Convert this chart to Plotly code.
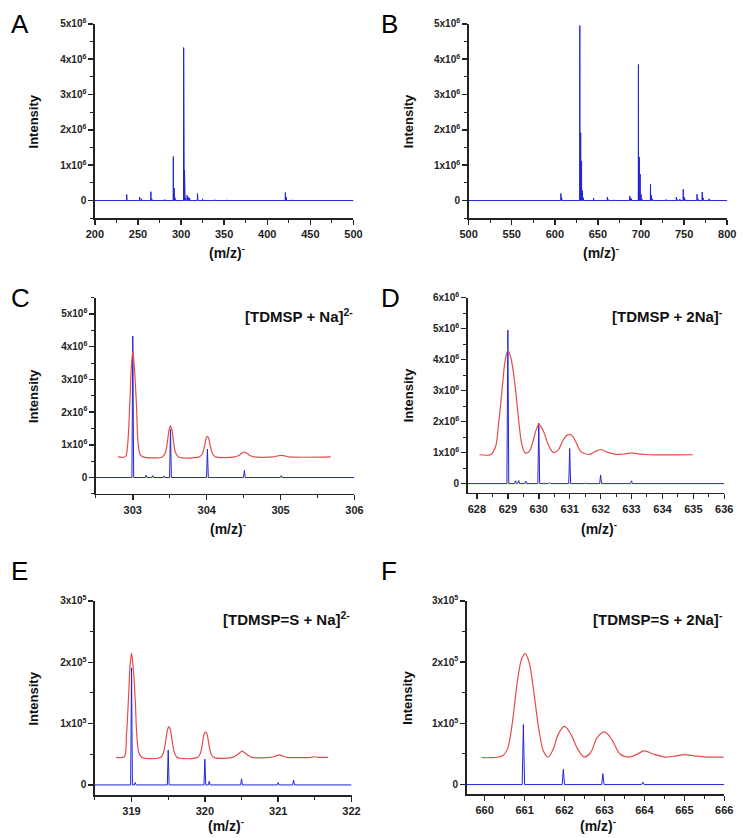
import plotly.graph_objects as go

W, H = 745, 838

# ---------------- data ----------------
# Panel A: full spectrum 200-500 (intensity in units of 1e6)
a_peak_mz = [237, 252, 254, 265, 266, 281, 291, 292, 293, 303, 303.5, 304, 304.5, 305,
             307, 308, 309, 310, 319, 319.5, 325, 338, 340, 353, 421, 422, 429]
a_peak_int = [0.17, 0.10, 0.05, 0.25, 0.05, 0.03, 1.25, 0.35, 0.08, 4.33, 1.45, 0.86, 0.22, 0.07,
              0.15, 0.10, 0.08, 0.06, 0.20, 0.06, 0.05, 0.02, 0.02, 0.02, 0.23, 0.10, 0.02]

# Panel B: full spectrum 500-800 (1e6)
b_peak_mz = [526, 607, 608, 629, 630, 631, 632, 633, 645, 661, 662, 669, 687, 688, 689,
             697, 698, 699, 700, 701, 711, 712, 713, 729, 741, 742, 745, 749, 750, 751,
             765, 766, 771, 772, 779, 780]
b_peak_int = [0.01, 0.20, 0.07, 4.95, 1.92, 1.12, 0.28, 0.08, 0.07, 0.10, 0.03, 0.02, 0.13, 0.07, 0.05,
              3.85, 1.23, 0.75, 0.18, 0.05, 0.47, 0.15, 0.05, 0.03, 0.10, 0.03, 0.04, 0.32, 0.10, 0.04,
              0.18, 0.05, 0.24, 0.08, 0.05, 0.02]

# Panel C: [TDMSP + Na]2- (1e6)
c_peak_mz = [303.0, 303.18, 303.27, 303.42, 303.51, 304.01, 304.51, 305.01, 305.51]
c_peak_int = [4.32, 0.07, 0.06, 0.05, 1.47, 0.87, 0.22, 0.06, 0.01]
c_sim_mz = [302.80, 302.90, 302.93, 302.96, 302.98, 303.00, 303.02, 303.05, 303.07, 303.10, 303.14,
            303.40, 303.44, 303.47, 303.49, 303.51, 303.53, 303.55, 303.58, 303.62,
            303.90, 303.94, 303.97, 303.99, 304.01, 304.03, 304.05, 304.08, 304.12,
            304.38, 304.44, 304.48, 304.51, 304.54, 304.58, 304.64,
            304.90, 304.96, 305.01, 305.06, 305.12, 305.68]
c_sim_int = [0.63, 0.64, 1.00, 2.30, 3.35, 3.86, 3.40, 2.20, 1.10, 0.70, 0.63,
             0.63, 0.75, 1.12, 1.45, 1.58, 1.45, 1.12, 0.75, 0.63,
             0.63, 0.72, 0.95, 1.18, 1.26, 1.18, 0.95, 0.72, 0.63,
             0.63, 0.68, 0.75, 0.78, 0.75, 0.68, 0.63,
             0.63, 0.66, 0.68, 0.66, 0.63, 0.63]

# Panel D: [TDMSP + 2Na]- (1e6)
d_peak_mz = [629.0, 629.25, 629.35, 629.58, 630.0, 630.35, 630.6, 631.0, 631.5, 632.0, 633.0, 634.0]
d_peak_int = [4.95, 0.09, 0.10, 0.08, 1.95, 0.03, 0.02, 1.13, 0.02, 0.28, 0.09, 0.01]
d_sim_mz = [628.08, 628.45, 628.60, 628.70, 628.81, 628.91, 629.00, 629.10, 629.23, 629.34, 629.45,
            629.56, 629.70, 629.82, 629.92, 630.00, 630.08, 630.18, 630.30, 630.46, 630.62, 630.78,
            630.90, 631.00, 631.10, 631.22, 631.36, 631.63, 631.80, 632.00, 632.20, 632.50, 632.80,
            633.00, 633.20, 633.55, 634.98]
d_sim_int = [0.93, 0.94, 1.18, 1.92, 2.99, 3.95, 4.30, 4.05, 3.20, 2.14, 1.28,
             0.99, 1.05, 1.39, 1.75, 1.91, 1.83, 1.62, 1.28, 1.01, 1.07, 1.39,
             1.55, 1.59, 1.52, 1.30, 1.03, 0.94, 1.02, 1.10, 1.02, 0.94, 0.96,
             0.99, 0.96, 0.93, 0.93]

# Panel E: [TDMSP=S + Na]2- (1e5)
e_peak_mz = [319.0, 319.05, 319.5, 320.0, 320.06, 320.5, 321.0, 321.21, 321.5]
e_peak_int = [1.91, 0.04, 0.57, 0.42, 0.06, 0.10, 0.04, 0.08, 0.01]
e_sim_mz = [318.79, 318.90, 318.93, 318.96, 318.98, 319.00, 319.02, 319.05, 319.07, 319.10, 319.14,
            319.40, 319.44, 319.47, 319.49, 319.51, 319.53, 319.55, 319.58, 319.62,
            319.90, 319.94, 319.97, 319.99, 320.01, 320.03, 320.05, 320.08, 320.12,
            320.38, 320.44, 320.48, 320.51, 320.54, 320.58, 320.64,
            320.90, 320.96, 321.01, 321.06, 321.12, 321.45, 321.50, 321.55, 321.68]
e_sim_int = [0.45, 0.46, 0.80, 1.45, 1.95, 2.15, 1.95, 1.40, 0.85, 0.52, 0.45,
             0.45, 0.55, 0.75, 0.90, 0.95, 0.90, 0.75, 0.55, 0.45,
             0.45, 0.52, 0.70, 0.83, 0.86, 0.83, 0.70, 0.52, 0.45,
             0.45, 0.49, 0.53, 0.55, 0.53, 0.49, 0.45,
             0.45, 0.47, 0.49, 0.47, 0.45, 0.45, 0.46, 0.45, 0.45]

# Panel F: [TDMSP=S + 2Na]- (1e5)
f_peak_mz = [660.97, 661.97, 662.96, 663.96, 664.96]
f_peak_int = [0.98, 0.25, 0.18, 0.04, 0.01]
f_sim_mz = [659.93, 660.45, 660.58, 660.70, 660.82, 660.93, 661.02, 661.12, 661.23, 661.35, 661.47,
            661.59, 661.72, 661.84, 662.00, 662.16, 662.33, 662.49, 662.65, 662.82, 663.00,
            663.18, 663.39, 663.63, 663.80, 664.00, 664.22, 664.55, 664.80, 665.00, 665.25,
            665.55, 665.98]
f_sim_int = [0.44, 0.47, 0.60, 1.04, 1.69, 2.06, 2.14, 1.98, 1.52, 0.93, 0.55,
             0.45, 0.58, 0.82, 0.95, 0.82, 0.58, 0.45, 0.52, 0.77, 0.86,
             0.74, 0.50, 0.45, 0.49, 0.55, 0.50, 0.45, 0.47, 0.49, 0.47,
             0.45, 0.45]

labels = ["A", "B", "C", "D", "E", "F"]
ion_labels = ["", "", "[TDMSP + Na]<sup>2-</sup>", "[TDMSP + 2Na]<sup>-</sup>",
              "[TDMSP=S + Na]<sup>2-</sup>", "[TDMSP=S + 2Na]<sup>-</sup>"]

# ---------------- layout geometry (pixels) ----------------
BLUE = "#2424d2"
RED = "#e64b4b"
FONT = "Liberation Sans, Arial, sans-serif"

panels = [
    dict(peaks=(a_peak_mz, a_peak_int), sim=None, xr=[200, 500], yr=[-0.5, 5.0], scale=1e6,
         yt=[0, 1, 2, 3, 4, 5], exp=6, xt=[200, 250, 300, 350, 400, 450, 500], xminor=25,
         box=(88, 353, 17, 213), w=0.2, tgap=34),
    dict(peaks=(b_peak_mz, b_peak_int), sim=None, xr=[500, 800], yr=[-0.5, 5.0], scale=1e6,
         yt=[0, 1, 2, 3, 4, 5], exp=6, xt=[500, 550, 600, 650, 700, 750, 800], xminor=25,
         box=(471, 736, 17, 213), w=0.2, tgap=34),
    dict(peaks=(c_peak_mz, c_peak_int), sim=(c_sim_mz, c_sim_int), xr=[302.5, 306], yr=[-0.5, 5.5],
         scale=1e6, yt=[0, 1, 2, 3, 4, 5], exp=6, xt=[303, 304, 305, 306], xminor=0.5,
         box=(89, 354, 293, 491), w=0.012, tgap=34),
    dict(peaks=(d_peak_mz, d_peak_int), sim=(d_sim_mz, d_sim_int), xr=[627.7, 636], yr=[-0.3, 6.0],
         scale=1e6, yt=[0, 1, 2, 3, 4, 5, 6], exp=6, xt=list(range(628, 637)), xminor=0.5,
         box=(470, 733, 293, 490), w=0.03, tgap=35),
    dict(peaks=(e_peak_mz, e_peak_int), sim=(e_sim_mz, e_sim_int), xr=[318.5, 322], yr=[-0.17, 3.0],
         scale=1e5, yt=[0, 1, 2, 3], exp=5, xt=[319, 320, 321, 322], xminor=0.5,
         box=(88, 351, 599, 795), w=0.012, tgap=30),
    dict(peaks=(f_peak_mz, f_peak_int), sim=(f_sim_mz, f_sim_int), xr=[659.55, 666], yr=[-0.16, 3.0],
         scale=1e5, yt=[0, 1, 2, 3], exp=5, xt=list(range(660, 667)), xminor=0.5,
         box=(469, 733, 599, 794), w=0.03, tgap=31),
]

fig = go.Figure()
layout = dict(width=W, height=H, margin=dict(l=0, r=0, t=0, b=0),
              paper_bgcolor="white", plot_bgcolor="white", showlegend=False)
annotations = []

for i, p in enumerate(panels):
    n = i + 1
    xa = "x" if n == 1 else f"x{n}"
    ya = "y" if n == 1 else f"y{n}"
    left, right, top, bottom = p["box"]
    sc = p["scale"]

    mz, inten = p["peaks"]
    pts = sorted(zip(mz, inten))
    xs, ys = [p["xr"][0]], [0.0]
    for m, v in pts:
        xs += [m - p["w"], m, m + p["w"]]
        ys += [0.0, v * sc, 0.0]
    xs.append(p["xr"][1])
    ys.append(0.0)
    fig.add_trace(go.Scatter(x=xs, y=ys, mode="lines", xaxis=xa, yaxis=ya,
                             line=dict(color=BLUE, width=1), hoverinfo="skip"))

    if p["sim"] is not None:
        smz, sint = p["sim"]
        fig.add_trace(go.Scatter(x=smz, y=[v * sc for v in sint], mode="lines", xaxis=xa, yaxis=ya,
                                 line=dict(color=RED, width=1.2, shape="spline", smoothing=0.9),
                                 hoverinfo="skip"))

    ticktext = ["0" if t == 0 else f"{t}x10<sup>{p['exp']}</sup>" for t in p["yt"]]
    xkey = "xaxis" if n == 1 else f"xaxis{n}"
    ykey = "yaxis" if n == 1 else f"yaxis{n}"
    layout[xkey] = dict(domain=[left / W, right / W], anchor=ya, range=p["xr"],
                        showgrid=False, zeroline=False, showline=True, linecolor="#222",
                        linewidth=1.5, ticks="outside", ticklen=5, tickwidth=1.5, tickcolor="#222",
                        tickvals=p["xt"], ticktext=[str(t) for t in p["xt"]],
                        tickfont=dict(family=FONT, size=11, color="#222", weight="bold"),
                        minor=dict(dtick=p["xminor"], ticks="outside", ticklen=3, tickcolor="#222",
                                   tickwidth=1, tick0=p["xt"][0]))
    layout[ykey] = dict(domain=[1 - bottom / H, 1 - top / H], anchor=xa,
                        range=[p["yr"][0] * sc, p["yr"][1] * sc],
                        showgrid=False, zeroline=False, showline=True, linecolor="#222",
                        linewidth=1.5, ticks="outside", ticklen=5, tickwidth=1.5, tickcolor="#222",
                        tickvals=[t * sc for t in p["yt"]], ticktext=ticktext,
                        tickfont=dict(family=FONT, size=10, color="#222", weight="bold"),
                        minor=dict(dtick=0.5 * sc, ticks="outside", ticklen=3, tickcolor="#222",
                                   tickwidth=1, tick0=0))

    annotations.append(dict(text=labels[i], xref="paper", yref="paper",
                            x=(0 if n % 2 == 1 else 379) / W,
                            y=1 - ([0, 0, 276, 276, 552, 552][i]) / H,
                            xanchor="left", yanchor="top", showarrow=False,
                            font=dict(family=FONT, size=26, color="black")))
    annotations.append(dict(text="<b>Intensity</b>", xref="paper", yref="paper",
                            x=(25 if n % 2 == 1 else 409) / W,
                            y=1 - ((top + bottom) / 2) / H, textangle=-90,
                            xanchor="center", yanchor="middle", showarrow=False,
                            font=dict(family=FONT, size=13, color="#111")))
    annotations.append(dict(text="<b>(m/z)<sup>-</sup></b>", xref="paper", yref="paper",
                            x=((left + right) / 2 + 3) / W, y=1 - (bottom + p["tgap"]) / H,
                            xanchor="center", yanchor="middle", showarrow=False,
                            font=dict(family=FONT, size=14, color="#111")))
    if ion_labels[i]:
        annotations.append(dict(text="<b>" + ion_labels[i] + "</b>", xref="paper", yref="paper",
                                x=(right + 1) / W, y=1 - (top + 18) / H,
                                xanchor="right", yanchor="middle", showarrow=False,
                                font=dict(family=FONT, size=15, color="#111")))

layout["annotations"] = annotations
fig.update_layout(**layout)
fig.write_html("out.html",
               config={"displayModeBar": False, "staticPlot": True},
               post_script="document.body.style.margin='0';document.body.style.overflow='hidden';")
